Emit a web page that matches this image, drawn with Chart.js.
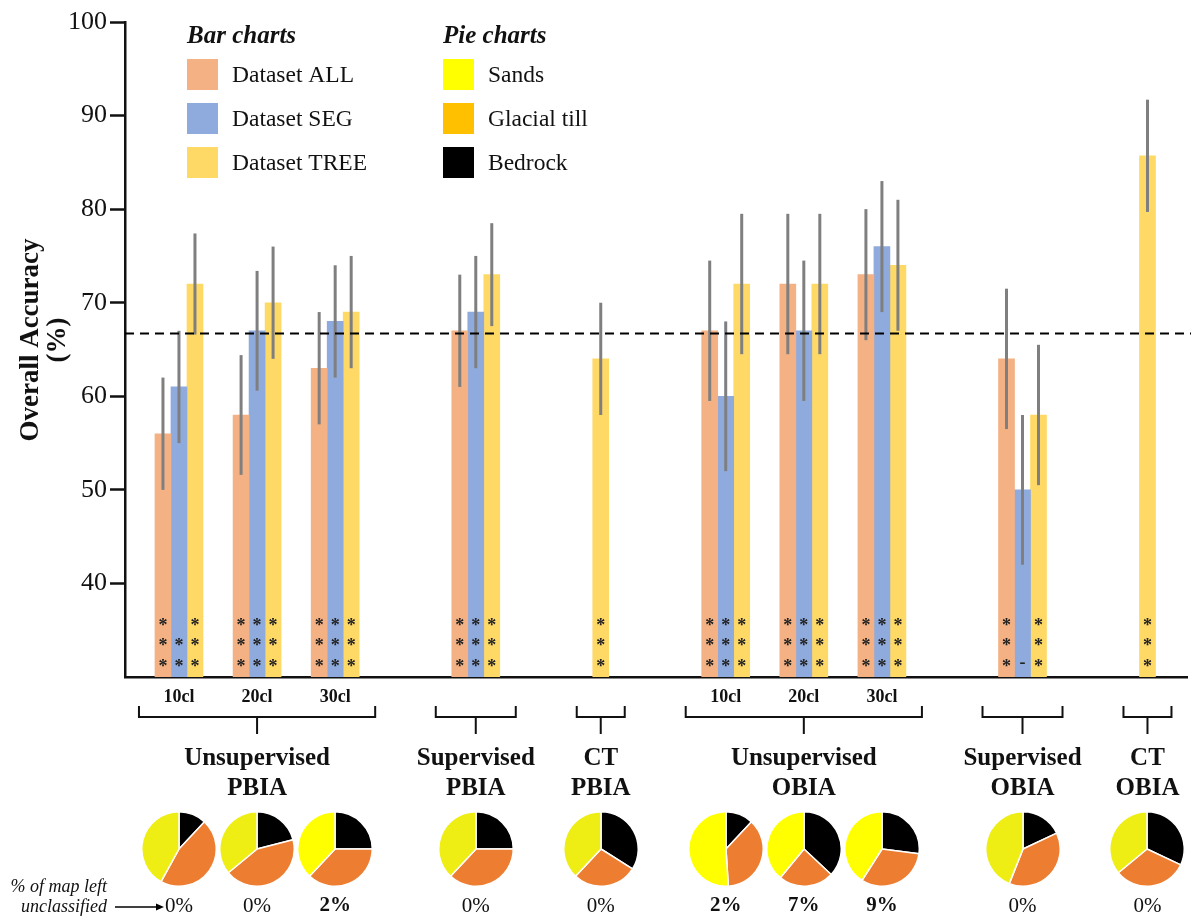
<!DOCTYPE html>
<html>
<head>
<meta charset="utf-8">
<script src="https://cdn.jsdelivr.net/npm/chart.js@4.4.1/dist/chart.umd.min.js"></script>
<style>
  body { margin: 0; background: #fff; }
  #wrap { position: relative; width: 1193px; height: 917px; }
  #wrap canvas.pie { position: absolute; }
</style>
</head>
<body>
<div id="wrap"><canvas id="main" width="1193" height="917"></canvas></div>
<script>
// slot positions along the x axis (one per bar group)
const positions = [0, 1, 2, 3.8, 5.4, 7, 8, 9, 10.8, 12.4];
const subLabels = ['10cl', '20cl', '30cl', '', '', '10cl', '20cl', '30cl', '', ''];

const seriesNames = ['Dataset ALL', 'Dataset SEG', 'Dataset TREE'];
const allValues = [56, 58, 63, 67, null, 67, 72, 73, 64, null];
const allErrors = [6, 6.4, 6, 6, null, 7.5, 7.5, 7, 7.5, null];
const segValues = [61, 67, 68, 69, null, 60, 67, 76, 50, null];
const segErrors = [6, 6.4, 6, 6, null, 8, 7.5, 7, 8, null];
const treeValues = [72, 70, 69, 73, 64, 72, 72, 74, 58, 85.7];
const treeErrors = [5.4, 6, 6, 5.5, 6, 7.5, 7.5, 7, 7.5, 6];

// significance marks printed at the foot of each bar
const allSig = ['***', '***', '***', '***', null, '***', '***', '***', '***', null];
const segSig = ['**', '***', '***', '***', null, '***', '***', '***', '-', null];
const treeSig = ['***', '***', '***', '***', '***', '***', '***', '***', '***', '***'];

const baselineAccuracy = 66.7;

const groupNames = [['Unsupervised', 'PBIA'], ['Supervised', 'PBIA'], ['CT', 'PBIA'],
                    ['Unsupervised', 'OBIA'], ['Supervised', 'OBIA'], ['CT', 'OBIA']];
const groupFirst = [0, 3, 4, 5, 8, 9];
const groupLast = [2, 3, 4, 7, 8, 9];

// pie charts: share of the map per class (%)
const pieNames = ['Bedrock', 'Glacial till', 'Sands'];
const bedrockShare = [12, 21, 25, 25, 34, 12, 37, 27, 18, 32];
const tillShare = [46, 43, 37, 37, 28, 37, 24, 32, 38, 32];
const sandsShare = [42, 36, 38, 38, 38, 51, 39, 41, 44, 36];
const unclassified = [0, 0, 2, 0, 0, 2, 7, 9, 0, 0];

const barColors = ['#F4B183', '#8FAADC', '#FFD966'];
const pieLegendNames = ['Sands', 'Glacial till', 'Bedrock'];
const pieLegendColors = ['#FFFF00', '#FFC000', '#000000'];

const SERIF = '"Liberation Serif", "Times New Roman", serif';
const TXT = '#111';

const values = [allValues, segValues, treeValues];
const errors = [allErrors, segErrors, treeErrors];
const sigs = [allSig, segSig, treeSig];

function barsAt(i) {
  return values.filter(v => v[i] !== null).length;
}

const decor = {
  id: 'decor',
  afterDatasetsDraw(chart) {
    const ctx = chart.ctx;
    const y = chart.scales.y;
    const area = chart.chartArea;
    // error bars
    ctx.save();
    ctx.strokeStyle = '#7F7F7F';
    ctx.lineWidth = 3;
    values.forEach((vals, d) => {
      const meta = chart.getDatasetMeta(d);
      vals.forEach((v, i) => {
        if (v === null) return;
        const bx = meta.data[i].x;
        ctx.beginPath();
        ctx.moveTo(bx, y.getPixelForValue(v + errors[d][i]));
        ctx.lineTo(bx, y.getPixelForValue(v - errors[d][i]));
        ctx.stroke();
      });
    });
    // baseline accuracy
    ctx.strokeStyle = '#000';
    ctx.lineWidth = 2;
    ctx.setLineDash([9, 6]);
    const by = y.getPixelForValue(baselineAccuracy);
    ctx.beginPath();
    ctx.moveTo(area.left, by);
    ctx.lineTo(area.right + 4, by);
    ctx.stroke();
    ctx.setLineDash([]);
    // significance marks
    ctx.fillStyle = '#222';
    ctx.textAlign = 'center';
    ctx.textBaseline = 'alphabetic';
    ctx.font = 'bold 18px ' + SERIF;
    const rows = [area.bottom - 15, area.bottom - 36, area.bottom - 56];
    sigs.forEach((s, d) => {
      const meta = chart.getDatasetMeta(d);
      s.forEach((mark, i) => {
        if (!mark) return;
        const bx = meta.data[i].x;
        if (mark === '-') {
          ctx.fillText('-', bx, rows[0] + 6);
          return;
        }
        for (let k = 0; k < mark.length; k++) ctx.fillText('*', bx, rows[k] + 10);
      });
    });
    ctx.restore();
  },
  afterDraw(chart) {
    const ctx = chart.ctx;
    const x = chart.scales.x;
    ctx.save();
    ctx.fillStyle = TXT;
    ctx.textBaseline = 'alphabetic';
    ctx.textAlign = 'left';

    // legends
    ctx.font = 'italic bold 25px ' + SERIF;
    ctx.fillText('Bar charts', 187, 43);
    ctx.fillText('Pie charts', 443, 43);
    ctx.font = '23.5px ' + SERIF;
    const rowTop = [59, 103, 147];
    seriesNames.forEach((n, k) => {
      ctx.fillStyle = barColors[k];
      ctx.fillRect(187, rowTop[k], 31, 31);
      ctx.fillStyle = TXT;
      ctx.fillText(n, 232, rowTop[k] + 23);
    });
    pieLegendNames.forEach((n, k) => {
      ctx.fillStyle = pieLegendColors[k];
      ctx.fillRect(443, rowTop[k], 31, 31);
      ctx.fillStyle = TXT;
      ctx.fillText(n, 488, rowTop[k] + 23);
    });

    // y axis title
    ctx.textAlign = 'center';
    ctx.textBaseline = 'middle';
    ctx.font = 'bold 27px ' + SERIF;
    ctx.save();
    ctx.translate(31, 340);
    ctx.rotate(-Math.PI / 2);
    ctx.fillText('Overall Accuracy', 0, 0);
    ctx.restore();
    ctx.save();
    ctx.translate(58, 340);
    ctx.rotate(-Math.PI / 2);
    ctx.fillText('(%)', 0, 0);
    ctx.restore();

    // sub labels
    ctx.font = 'bold 18px ' + SERIF;
    subLabels.forEach((s, i) => {
      if (s) ctx.fillText(s, x.getPixelForValue(positions[i]), 697);
    });

    // brackets and group names
    ctx.strokeStyle = '#111';
    ctx.lineWidth = 2;
    groupNames.forEach((g, k) => {
      const l = x.getPixelForValue(positions[groupFirst[k]]) - barsAt(groupFirst[k]) * 8 - 16;
      const r = x.getPixelForValue(positions[groupLast[k]]) + barsAt(groupLast[k]) * 8 + 16;
      const m = (l + r) / 2;
      ctx.beginPath();
      ctx.moveTo(l, 706);
      ctx.lineTo(l, 717);
      ctx.lineTo(r, 717);
      ctx.lineTo(r, 706);
      ctx.moveTo(m, 717);
      ctx.lineTo(m, 734);
      ctx.stroke();
      ctx.font = 'bold 25px ' + SERIF;
      ctx.fillText(g[0], m, 759);
      ctx.fillText(g[1], m, 789);
    });

    // unclassified share under each pie
    unclassified.forEach((u, i) => {
      ctx.font = (u > 0 ? 'bold ' : '') + '21px ' + SERIF;
      ctx.fillText(u + '%', x.getPixelForValue(positions[i]), 906);
    });
    ctx.textAlign = 'right';
    ctx.font = 'italic 18px ' + SERIF;
    ctx.fillText('% of map left', 107, 887);
    ctx.fillText('unclassified', 107, 907);
    ctx.strokeStyle = '#000';
    ctx.lineWidth = 1.5;
    ctx.beginPath();
    ctx.moveTo(115, 907);
    ctx.lineTo(160, 907);
    ctx.stroke();
    ctx.fillStyle = '#000';
    ctx.beginPath();
    ctx.moveTo(164, 907);
    ctx.lineTo(156, 903.5);
    ctx.lineTo(156, 910.5);
    ctx.closePath();
    ctx.fill();
    ctx.restore();
  }
};

const chart = new Chart(document.getElementById('main'), {
  type: 'bar',
  data: {
    datasets: values.map((vals, d) => ({
      label: seriesNames[d],
      data: positions.map((p, i) => ({ x: p, y: vals[i] })),
      backgroundColor: barColors[d],
      borderWidth: 0,
      barThickness: 16,
      skipNull: true
    }))
  },
  options: {
    responsive: false,
    animation: false,
    layout: { padding: { top: 22, right: 6, bottom: 240, left: 0 } },
    plugins: { legend: { display: false }, tooltip: { enabled: false } },
    scales: {
      x: {
        type: 'linear',
        min: -0.691,
        max: 12.906,
        offset: false,
        grid: { display: false, drawTicks: false },
        ticks: { display: false },
        border: { display: true, color: '#111', width: 2.5 },
        afterFit(scale) { scale.height = 0; }
      },
      y: {
        min: 30,
        max: 100,
        ticks: {
          stepSize: 10,
          padding: 3,
          color: TXT,
          font: { family: SERIF, size: 26 },
          callback: v => (v === 30 ? '' : v)
        },
        grid: {
          drawOnChartArea: false,
          drawTicks: true,
          tickLength: 15,
          tickWidth: 2.5,
          tickColor: c => (c.tick && c.tick.value === 30 ? 'rgba(0,0,0,0)' : '#111')
        },
        border: { display: true, color: '#111', width: 2.5 },
        afterFit(scale) { scale.width = 125; }
      }
    }
  },
  plugins: [decor]
});

// small pie charts under each bar group
const wrap = document.getElementById('wrap');
const xs = chart.scales.x;
positions.forEach((p, i) => {
  const cv = document.createElement('canvas');
  cv.className = 'pie';
  cv.width = 76;
  cv.height = 76;
  cv.style.left = (xs.getPixelForValue(p) - 38) + 'px';
  cv.style.top = (849 - 38) + 'px';
  wrap.appendChild(cv);
  new Chart(cv, {
    type: 'pie',
    data: {
      labels: pieNames,
      datasets: [{
        data: [bedrockShare[i], tillShare[i], sandsShare[i]],
        backgroundColor: ['#000000', '#ED7D31', unclassified[i] > 0 ? '#FFFF00' : '#EEEE14'],
        borderColor: '#ffffff',
        borderWidth: 1.5
      }]
    },
    options: {
      responsive: false,
      animation: false,
      plugins: { legend: { display: false }, tooltip: { enabled: false } }
    }
  });
});
</script>
</body>
</html>
